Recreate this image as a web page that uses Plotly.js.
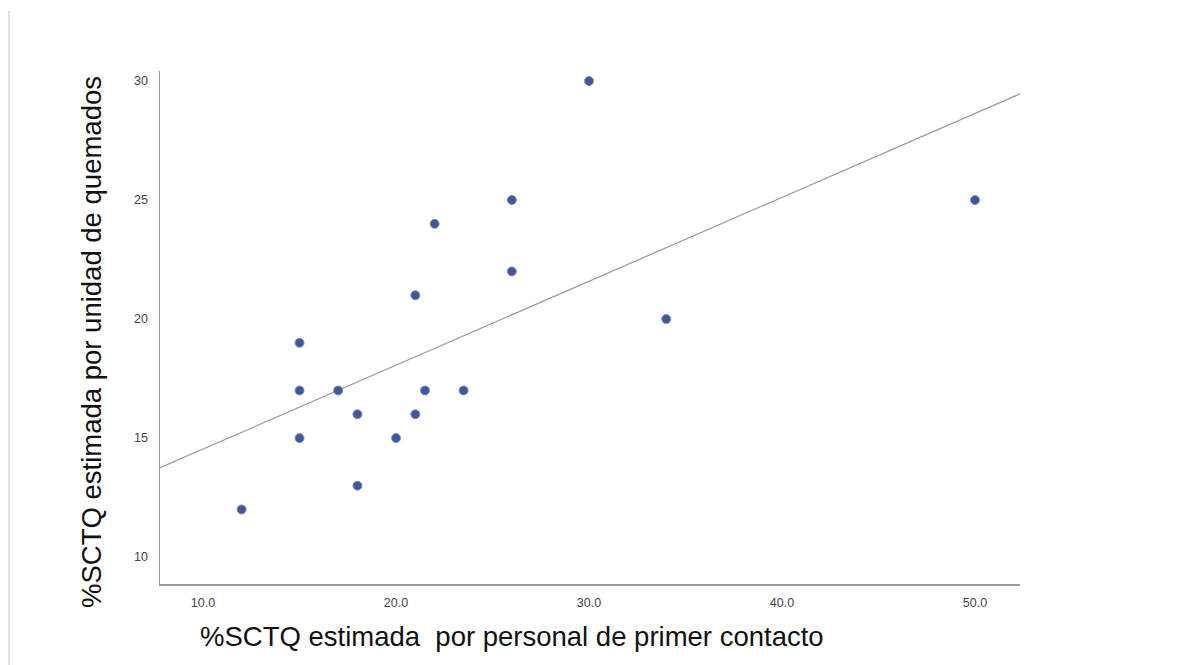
<!DOCTYPE html>
<html><head><meta charset="utf-8">
<script src="https://cdn.plot.ly/plotly-3.0.1.min.js"></script>
<style>html,body{margin:0;padding:0;background:#fff;}#chart{width:1179px;height:665px;}</style>
</head><body><div id="chart"></div>
<script>
const xPrimer = [12, 15, 15, 15, 17, 18, 18, 20, 21, 21, 21.5, 22, 23.5, 26, 26, 30, 34, 50];
const yUnidad = [12, 19, 17, 15, 17, 16, 13, 15, 21, 16, 17, 24, 17, 25, 22, 30, 20, 25];
const xTickVals = [10, 20, 30, 40, 50];
const xTickText = ['10.0', '20.0', '30.0', '40.0', '50.0'];
const yTickVals = [10, 15, 20, 25, 30];
const xTitle = '%SCTQ estimada  por personal de primer contacto';
const yTitle = '%SCTQ estimada por unidad de quemados';

const xRange = [7.77, 52.33];
const yRange = [8.87, 30.42];

// least-squares fit
const n = xPrimer.length;
const mx = xPrimer.reduce((a,b)=>a+b,0)/n;
const my = yUnidad.reduce((a,b)=>a+b,0)/n;
let sxy=0, sxx=0;
for (let i=0;i<n;i++){ sxy += (xPrimer[i]-mx)*(yUnidad[i]-my); sxx += (xPrimer[i]-mx)**2; }
const slope = sxy/sxx, icpt = my - slope*mx;
const fitX = xRange.slice();
const fitY = fitX.map(v => icpt + slope*v);

const L=160, R=159, T=71, B=81, W=1179, H=665;
const pw = W-L-R, ph = H-T-B;
const px = v => (v - L)/pw;
const py = v => (H - B - v)/ph;

const data = [
  {x: fitX, y: fitY, mode:'lines', type:'scatter', line:{color:'#9a9a9a', width:1.2}, hoverinfo:'skip', showlegend:false},
  {x: xPrimer, y: yUnidad, mode:'markers', type:'scatter',
   marker:{size:9, color:'#3f57a0', line:{color:'#8a8fa0', width:1}}, showlegend:false}
];

const layout = {
  width: W, height: H,
  margin: {l:L, r:R, t:T, b:B},
  paper_bgcolor:'#fff', plot_bgcolor:'#fff',
  font:{family:'Liberation Sans, Arial, sans-serif', color:'#333'},
  xaxis:{range:xRange, tickvals:xTickVals, ticktext:xTickText, showgrid:false, zeroline:false,
         showline:true, linecolor:'#9a9a9a', linewidth:1.5, ticks:'', tickfont:{size:12.5, color:'#444'}, ticklabelstandoff:6},
  yaxis:{range:yRange, tickvals:yTickVals, showgrid:false, zeroline:false,
         showline:true, linecolor:'#9a9a9a', linewidth:1.5, ticks:'', tickfont:{size:12.5, color:'#444'}, ticklabelstandoff:8},
  annotations:[
    {text:xTitle, xref:'paper', yref:'paper', x:px(512), y:py(636), xanchor:'center', yanchor:'middle',
     showarrow:false, font:{size:27.5, color:'#111'}},
    {text:yTitle, xref:'paper', yref:'paper', x:px(91), y:py(342), xanchor:'center', yanchor:'middle',
     textangle:-90, showarrow:false, font:{size:27.5, color:'#111'}}
  ],
  shapes:[
    {type:'line', xref:'paper', yref:'paper', x0:px(9), x1:px(9), y0:py(11), y1:py(665), line:{color:'#d6d6d6', width:1.5}}
  ]
};
Plotly.newPlot('chart', data, layout, {displayModeBar:false, staticPlot:true});
</script></body></html>
